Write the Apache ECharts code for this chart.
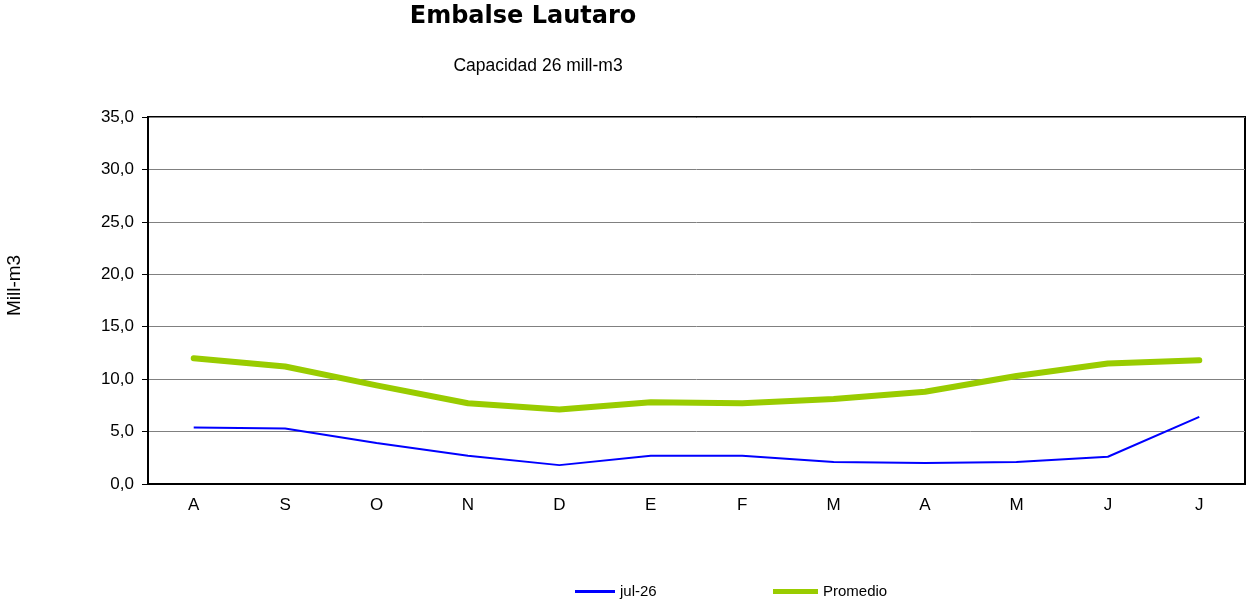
<!DOCTYPE html>
<html>
<head>
<meta charset="utf-8">
<script src="https://cdn.jsdelivr.net/npm/echarts@6/dist/echarts.min.js"></script>
<style>
html,body{margin:0;padding:0;background:#fff;}
#chart{width:1251px;height:604px;}
</style>
</head>
<body>
<div id="chart"></div>
<script>
var months = ['A','S','O','N','D','E','F','M','A','M','J','J'];
var jul26 = [5.4, 5.3, 3.9, 2.7, 1.8, 2.7, 2.7, 2.1, 2.0, 2.1, 2.6, 6.4];
var promedio = [12.0, 11.2, 9.4, 7.7, 7.1, 7.8, 7.7, 8.1, 8.8, 10.3, 11.5, 11.8];

var myChart = echarts.init(document.getElementById('chart'));
var font = 'Liberation Sans, Arial, sans-serif';
var option = {
    backgroundColor: '#fff',
    animation: false,
    title: [{
        text: 'Embalse Lautaro',
        left: 518,
        top: 0,
        textAlign: 'center',
        textStyle: {color: '#000', fontSize: 24, fontWeight: 'bold', fontFamily: 'DejaVu Sans'}
    }, {
        text: 'Capacidad 26 mill-m3',
        left: 533,
        top: 52,
        textAlign: 'center',
        textStyle: {color: '#000', fontSize: 17.5, fontWeight: 'normal', fontFamily: font}
    }],
    legend: [{
        data: ['jul-26'],
        left: 570,
        top: 579,
        icon: 'rect',
        itemWidth: 40,
        itemHeight: 3,
        textStyle: {color: '#000', fontSize: 15, fontFamily: font}
    }, {
        data: ['Promedio'],
        left: 768,
        top: 579,
        icon: 'rect',
        itemWidth: 45,
        itemHeight: 5,
        textStyle: {color: '#000', fontSize: 15, fontFamily: font}
    }],
    grid: {
        left: 148, right: 6, top: 117, bottom: 120,
        outerBoundsMode: 'none',
        show: true, borderColor: '#000', borderWidth: 2
    },
    xAxis: {
        type: 'category',
        data: months,
        boundaryGap: true,
        axisLine: {lineStyle: {color: '#000', width: 2}},
        axisTick: {inside: true, length: 5, lineStyle: {color: '#000', width: 2}},
        axisLabel: {color: '#000', fontSize: 17, margin: 13, fontFamily: font}
    },
    yAxis: {
        type: 'value',
        min: 0, max: 35, interval: 5,
        name: 'Mill-m3',
        nameLocation: 'middle',
        nameGap: 124,
        nameRotate: 90,
        nameTextStyle: {color: '#000', fontSize: 19, fontFamily: font, padding: [0, 0, 0, 30]},
        axisLine: {show: true, lineStyle: {color: '#000', width: 2}},
        axisTick: {show: true, length: 6, lineStyle: {color: '#000'}},
        axisLabel: {
            color: '#000', fontSize: 17, margin: 14, fontFamily: font,
            formatter: function (v) { return v.toFixed(1).replace('.', ','); }
        },
        splitLine: {lineStyle: {color: '#808080', width: 1}}
    },
    series: [{
        name: 'jul-26',
        type: 'line',
        data: jul26,
        symbol: 'none',
        lineStyle: {color: '#0000ff', width: 2},
        itemStyle: {color: '#0000ff'}
    }, {
        name: 'Promedio',
        type: 'line',
        data: promedio,
        symbol: 'none',
        lineStyle: {color: '#99cc00', width: 6, cap: 'round', join: 'round'},
        itemStyle: {color: '#99cc00'}
    }]
};
myChart.setOption(option);
</script>
</body>
</html>
